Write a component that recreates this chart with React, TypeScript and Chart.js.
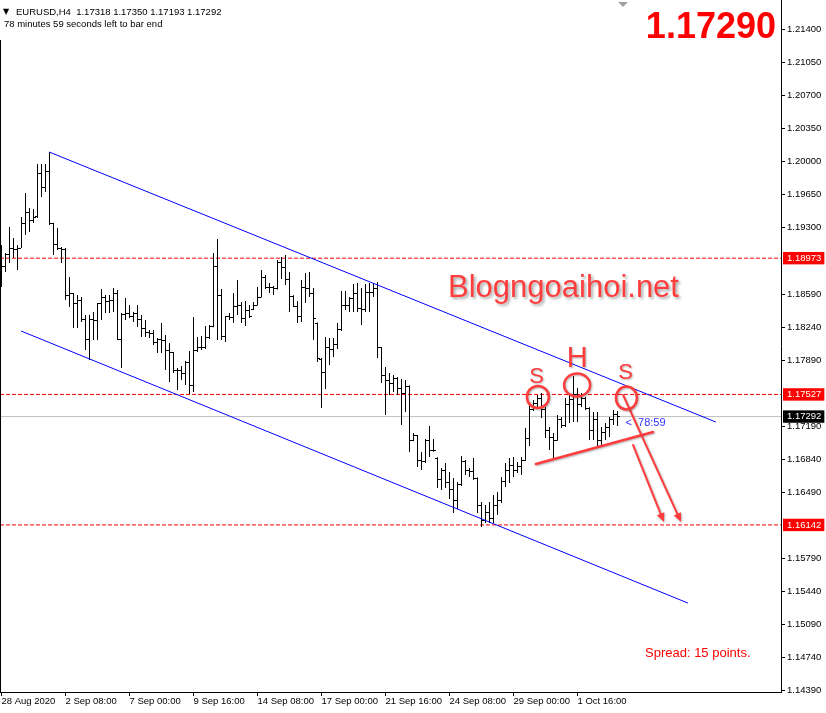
import React, { useEffect, useRef } from 'react';
import { Chart, registerables } from 'chart.js';

Chart.register(...registerables);

// ---------- DATA (EURUSD H4) ----------
const opens = [
  1.18826, 1.18890, 1.19007, 1.19081, 1.19060, 1.19081, 1.19346, 1.19453, 1.19368, 1.19412,
  1.19877, 1.19728, 1.19888, 1.19346, 1.19123, 1.19081, 1.19060, 1.18582, 1.18593, 1.18497,
  1.18529, 1.18317, 1.18105, 1.18327, 1.18310, 1.18490, 1.18561, 1.18518, 1.18525, 1.18593,
  1.18115, 1.18370, 1.18381, 1.18359, 1.18381, 1.18317, 1.18232, 1.18179, 1.18170, 1.18073,
  1.18105, 1.18100, 1.17998, 1.17967, 1.17786, 1.17780, 1.17754, 1.17871, 1.17627, 1.17988,
  1.18030, 1.18020, 1.18126, 1.18250, 1.18890, 1.18582, 1.18137, 1.18349, 1.18340, 1.18455,
  1.18476, 1.18338, 1.18423, 1.18430, 1.18476, 1.18561, 1.18773, 1.18667, 1.18660, 1.18646,
  1.18932, 1.18869, 1.18752, 1.18571, 1.18465, 1.18349, 1.18667, 1.18656, 1.18593, 1.18280,
  1.17900, 1.17765, 1.18030, 1.18009, 1.18052, 1.18211, 1.18476, 1.18470, 1.18540, 1.18603,
  1.18434, 1.18430, 1.18614, 1.18610, 1.18656, 1.18020, 1.17733, 1.17680, 1.17648, 1.17701,
  1.17595, 1.17542, 1.17616, 1.17043, 1.17086, 1.16831, 1.16810, 1.17033, 1.16937, 1.16850,
  1.16619, 1.16725, 1.16597, 1.16513, 1.16406, 1.16576, 1.16810, 1.16725, 1.16704, 1.16640,
  1.16353, 1.16194, 1.16279, 1.16215, 1.16353, 1.16406, 1.16598, 1.16725, 1.16778, 1.16725,
  1.16767, 1.16831, 1.17064, 1.17362, 1.17436, 1.17489, 1.17362, 1.17149, 1.17075, 1.17043,
  1.17256, 1.17202, 1.17415, 1.17468, 1.17521, 1.17415, 1.17489, 1.17383, 1.17149, 1.17256,
  1.17043, 1.17128, 1.17171, 1.17256, 1.17318,
];
const highs = [
  1.19113, 1.19028, 1.19304, 1.19187, 1.19113, 1.19410, 1.19665, 1.19506, 1.19495, 1.19972,
  1.19972, 1.19972, 1.20100, 1.19350, 1.19293, 1.19092, 1.19081, 1.18773, 1.18603, 1.18582,
  1.18561, 1.18370, 1.18370, 1.18402, 1.18497, 1.18646, 1.18582, 1.18582, 1.18656, 1.18635,
  1.18391, 1.18550, 1.18476, 1.18402, 1.18476, 1.18370, 1.18317, 1.18211, 1.18211, 1.18126,
  1.18285, 1.18158, 1.18073, 1.17977, 1.17807, 1.17828, 1.17882, 1.17988, 1.18349, 1.18137,
  1.18147, 1.18253, 1.18264, 1.19028, 1.19177, 1.18646, 1.18359, 1.18391, 1.18603, 1.18741,
  1.18508, 1.18518, 1.18476, 1.18508, 1.18667, 1.18848, 1.18794, 1.18710, 1.18678, 1.18954,
  1.18985, 1.19007, 1.18826, 1.18580, 1.18518, 1.18741, 1.18816, 1.18826, 1.18656, 1.18290,
  1.17913, 1.18137, 1.18126, 1.18126, 1.18285, 1.18625, 1.18625, 1.18561, 1.18699, 1.18710,
  1.18656, 1.18699, 1.18710, 1.18710, 1.18720, 1.18030, 1.17818, 1.17754, 1.17733, 1.17712,
  1.17690, 1.17680, 1.17625, 1.17117, 1.17096, 1.16916, 1.17054, 1.17192, 1.17054, 1.16860,
  1.16746, 1.16799, 1.16704, 1.16640, 1.16598, 1.16873, 1.16831, 1.16746, 1.16852, 1.16645,
  1.16385, 1.16353, 1.16385, 1.16459, 1.16491, 1.16651, 1.16799, 1.16852, 1.16863, 1.16810,
  1.16863, 1.17171, 1.17436, 1.17468, 1.17521, 1.17542, 1.17394, 1.17181, 1.17117, 1.17309,
  1.17288, 1.17489, 1.17542, 1.17723, 1.17595, 1.17542, 1.17500, 1.17390, 1.17340, 1.17340,
  1.17181, 1.17224, 1.17288, 1.17362, 1.17350,
];
const lows = [
  1.18667, 1.18826, 1.18922, 1.18975, 1.18848, 1.19081, 1.19219, 1.19251, 1.19346, 1.19399,
  1.19622, 1.19675, 1.19325, 1.19007, 1.19060, 1.18922, 1.18529, 1.18455, 1.18232, 1.18232,
  1.18296, 1.17998, 1.17892, 1.18105, 1.18105, 1.18317, 1.18391, 1.18391, 1.18402, 1.18105,
  1.17807, 1.18317, 1.18338, 1.18296, 1.18243, 1.18137, 1.18137, 1.18126, 1.18052, 1.17967,
  1.17967, 1.17786, 1.17659, 1.17754, 1.17574, 1.17680, 1.17627, 1.17531, 1.17553, 1.17977,
  1.17998, 1.18010, 1.18115, 1.18240, 1.18105, 1.18105, 1.18084, 1.18317, 1.18285, 1.18370,
  1.18285, 1.18253, 1.18338, 1.18423, 1.18470, 1.18555, 1.18646, 1.18603, 1.18582, 1.18640,
  1.18752, 1.18688, 1.18402, 1.18455, 1.18285, 1.18296, 1.18497, 1.18561, 1.18105, 1.17871,
  1.17383, 1.17584, 1.17839, 1.17924, 1.18009, 1.18200, 1.18423, 1.18402, 1.18402, 1.18402,
  1.18264, 1.18402, 1.18402, 1.18561, 1.17913, 1.17648, 1.17309, 1.17521, 1.17553, 1.17521,
  1.17202, 1.17340, 1.16916, 1.17030, 1.16757, 1.16725, 1.16799, 1.16863, 1.16920, 1.16534,
  1.16513, 1.16534, 1.16417, 1.16268, 1.16311, 1.16555, 1.16672, 1.16651, 1.16619, 1.16268,
  1.16120, 1.16162, 1.16162, 1.16162, 1.16247, 1.16375, 1.16544, 1.16587, 1.16651, 1.16693,
  1.16672, 1.16820, 1.16979, 1.17350, 1.17383, 1.17277, 1.17064, 1.16937, 1.16852, 1.17035,
  1.17171, 1.17181, 1.17224, 1.17234, 1.17234, 1.17394, 1.17362, 1.17043, 1.17043, 1.16979,
  1.16979, 1.17043, 1.17075, 1.17202, 1.17193,
];
const closes = [
  1.18890, 1.19007, 1.19081, 1.19060, 1.19081, 1.19346, 1.19453, 1.19368, 1.19410, 1.19877,
  1.19728, 1.19888, 1.19346, 1.19123, 1.19081, 1.19060, 1.18582, 1.18593, 1.18497, 1.18529,
  1.18317, 1.18105, 1.18327, 1.18310, 1.18490, 1.18561, 1.18518, 1.18525, 1.18593, 1.18115,
  1.18370, 1.18381, 1.18359, 1.18381, 1.18317, 1.18232, 1.18179, 1.18170, 1.18073, 1.18105,
  1.18100, 1.17998, 1.17967, 1.17786, 1.17780, 1.17754, 1.17871, 1.17627, 1.17988, 1.18030,
  1.18020, 1.18126, 1.18250, 1.18890, 1.18582, 1.18137, 1.18349, 1.18340, 1.18455, 1.18476,
  1.18338, 1.18423, 1.18349, 1.18476, 1.18561, 1.18773, 1.18667, 1.18660, 1.18646, 1.18932,
  1.18869, 1.18752, 1.18571, 1.18465, 1.18349, 1.18667, 1.18656, 1.18593, 1.18338, 1.17905,
  1.17765, 1.18030, 1.18009, 1.18052, 1.18211, 1.18476, 1.18470, 1.18540, 1.18603, 1.18434,
  1.18430, 1.18614, 1.18610, 1.18656, 1.18020, 1.17733, 1.17680, 1.17648, 1.17701, 1.17595,
  1.17542, 1.17616, 1.17043, 1.17086, 1.16831, 1.16810, 1.17033, 1.16937, 1.16930, 1.16619,
  1.16725, 1.16597, 1.16513, 1.16406, 1.16576, 1.16810, 1.16725, 1.16704, 1.16640, 1.16353,
  1.16194, 1.16279, 1.16215, 1.16353, 1.16406, 1.16598, 1.16725, 1.16778, 1.16725, 1.16767,
  1.16831, 1.17064, 1.17362, 1.17436, 1.17489, 1.17362, 1.17149, 1.17075, 1.17043, 1.17256,
  1.17202, 1.17415, 1.17468, 1.17521, 1.17415, 1.17489, 1.17383, 1.17149, 1.17256, 1.17043,
  1.17128, 1.17171, 1.17256, 1.17318, 1.17292,
];

const xTickBars = [0, 16, 32, 48, 64, 80, 96, 112, 128, 144];
const xTickLabels = [
  '28 Aug 2020', '2 Sep 08:00', '7 Sep 00:00', '9 Sep 16:00', '14 Sep 08:00',
  '17 Sep 00:00', '21 Sep 16:00', '24 Sep 08:00', '29 Sep 00:00', '1 Oct 16:00',
];
const yTickValues = [
  1.21400, 1.21050, 1.20700, 1.20350, 1.20000, 1.19650, 1.19300, 1.18590, 1.18240,
  1.17890, 1.17190, 1.16840, 1.16490, 1.15790, 1.15440, 1.15090, 1.14740, 1.14390,
];
const levelLines = [1.18973, 1.17527, 1.16142];
const bidPrice = 1.17292;
const highlightTicks = [1.18973, 1.17527, 1.16142, 1.17292];

// trend lines: [barIndex, price]
const upperChannel = [[11.9, 1.20100], [178.6, 1.17234]];
const lowerChannel = [[4.9, 1.18200], [171.6, 1.15313]];
const neckline = [[133.6, 1.16789], [162.9, 1.17128]];
const arrowLines = [
  [[155.4, 1.17521], [169.9, 1.16173]],
  [[157.9, 1.16990], [165.6, 1.16173]],
];
const patternLabels = ['S', 'H', 'S'];
const patternLabelPos = [[133.75, 1.17712], [143.9, 1.17908], [156.0, 1.17760]];
const patternCirclePos = [[134.1, 1.17500], [143.9, 1.17627], [156.25, 1.17489]];
const countdownPos = [156.0, 1.17224];

const X_MIN = -0.375;
const X_MAX = 194.875;
const Y_MIN = 1.14369;
const Y_MAX = 1.21713;

const FONT = '"Liberation Sans", Arial, sans-serif';
const RED = '#ff3d3d';

function hLine(v: number) {
  return [{ x: X_MIN, y: v }, { x: X_MAX, y: v }];
}
const isHL = (v: number) => highlightTicks.some((h) => Math.abs(h - v) < 1e-7);

const annotationPlugin = {
  id: 'mt4Annotations',
  beforeDatasetsDraw(chart: any) {
    chart.ctx.imageSmoothingEnabled = false;
  },
  afterDatasetsDraw(chart: any) {
    const { ctx, chartArea } = chart;
    ctx.imageSmoothingEnabled = true;
    const xs = chart.scales.x;
    const ys = chart.scales.y;
    const px = (i: number) => xs.getPixelForValue(i);
    const py = (v: number) => ys.getPixelForValue(v);
    ctx.save();
    ctx.beginPath();
    ctx.rect(chartArea.left, chartArea.top, chartArea.right - chartArea.left, chartArea.bottom - chartArea.top);
    ctx.clip();

    // watermark
    ctx.save();
    ctx.font = `31px ${FONT}`;
    ctx.fillStyle = RED;
    ctx.shadowColor = 'rgba(0,0,0,0.35)';
    ctx.shadowBlur = 3;
    ctx.shadowOffsetX = 2;
    ctx.shadowOffsetY = 2;
    ctx.textBaseline = 'alphabetic';
    ctx.fillText('Blogngoaihoi.net', 448, 297);
    ctx.restore();

    ctx.save();
    ctx.strokeStyle = RED;
    ctx.fillStyle = RED;
    ctx.shadowColor = 'rgba(0,0,0,0.3)';
    ctx.shadowBlur = 2;
    ctx.shadowOffsetX = 1;
    ctx.shadowOffsetY = 1;
    ctx.lineCap = 'round';

    // neckline
    ctx.lineWidth = 2.5;
    ctx.beginPath();
    ctx.moveTo(px(neckline[0][0]), py(neckline[0][1]));
    ctx.lineTo(px(neckline[1][0]), py(neckline[1][1]));
    ctx.stroke();

    // arrows
    ctx.lineWidth = 2;
    arrowLines.forEach(([a, b]) => {
      const x1 = px(a[0]), y1 = py(a[1]), x2 = px(b[0]), y2 = py(b[1]);
      const ang = Math.atan2(y2 - y1, x2 - x1);
      const L = 9, W = 4;
      const bx = x2 - L * Math.cos(ang), by = y2 - L * Math.sin(ang);
      ctx.beginPath();
      ctx.moveTo(x1, y1);
      ctx.lineTo(bx, by);
      ctx.stroke();
      ctx.beginPath();
      ctx.moveTo(x2, y2);
      ctx.lineTo(bx + W * Math.sin(ang), by - W * Math.cos(ang));
      ctx.lineTo(bx - W * Math.sin(ang), by + W * Math.cos(ang));
      ctx.closePath();
      ctx.fill();
    });

    // circles
    const radii = [[11, 11], [13, 11.5], [10.5, 11.5]];
    ctx.lineWidth = 2.5;
    patternCirclePos.forEach(([i, v], k) => {
      ctx.beginPath();
      ctx.ellipse(px(i), py(v), radii[k][0], radii[k][1], 0, 0, Math.PI * 2);
      ctx.stroke();
    });

    // letters
    const sizes = [22, 29, 22];
    ctx.textAlign = 'center';
    ctx.textBaseline = 'middle';
    patternLabels.forEach((t, k) => {
      ctx.font = `${sizes[k]}px ${FONT}`;
      ctx.fillText(t, px(patternLabelPos[k][0]), py(patternLabelPos[k][1]));
    });
    ctx.restore();

    // countdown
    ctx.font = `11px ${FONT}`;
    ctx.fillStyle = '#3232ff';
    ctx.textAlign = 'left';
    ctx.textBaseline = 'middle';
    ctx.fillText('<  78:59', px(countdownPos[0]), py(countdownPos[1]));

    ctx.restore();
  },
  afterDraw(chart: any) {
    const { ctx, chartArea } = chart;
    ctx.save();
    // frame: left edge (header label covers its top part)
    ctx.fillStyle = '#000';
    ctx.fillRect(chartArea.left, 40, 1, chartArea.bottom - 40);

    // shift marker
    ctx.fillStyle = '#a0a0a0';
    ctx.beginPath();
    ctx.moveTo(618, 2);
    ctx.lineTo(628, 2);
    ctx.lineTo(623, 7);
    ctx.closePath();
    ctx.fill();

    // header
    ctx.fillStyle = '#000';
    ctx.textAlign = 'left';
    ctx.textBaseline = 'alphabetic';
    ctx.font = `8px "DejaVu Sans", ${FONT}`;
    ctx.fillText('▼', 3, 14);
    ctx.font = `9.5px ${FONT}`;
    ctx.fillText('EURUSD,H4  1.17318 1.17350 1.17193 1.17292', 16, 15);
    ctx.fillText('78 minutes 59 seconds left to bar end', 4, 27);

    // big price
    ctx.font = `bold 36px ${FONT}`;
    ctx.fillStyle = '#ff0000';
    ctx.textAlign = 'right';
    ctx.fillText('1.17290', 776, 37.5);

    // spread
    ctx.font = `13px ${FONT}`;
    ctx.textAlign = 'left';
    ctx.fillText('Spread: 15 points.', 645, 657);
    ctx.restore();
  },
};

export default function App() {
  const ref = useRef<HTMLCanvasElement>(null);

  useEffect(() => {
    const canvas = ref.current;
    if (!canvas) return;
    const mkTick = (left: boolean) => {
      const c = document.createElement('canvas');
      c.width = 5;
      c.height = 1;
      const g = c.getContext('2d')!;
      g.fillStyle = '#000';
      g.fillRect(left ? 0 : 3, 0, 2, 1);
      return c;
    };
    const openImg = mkTick(true);
    const closeImg = mkTick(false);

    const datasets: any[] = [];
    levelLines.forEach((v) => {
      datasets.push({
        type: 'line',
        data: hLine(v),
        borderColor: '#ff0000',
        borderWidth: 1,
        borderDash: [4, 2],
        pointRadius: 0,
        order: 20,
      });
    });
    datasets.push({
      type: 'line',
      data: hLine(bidPrice),
      borderColor: '#c0c0c0',
      borderWidth: 1,
      pointRadius: 0,
      order: 21,
    });
    datasets.push({
      type: 'bar',
      data: highs.map((h, i) => ({ x: i, y: [lows[i], h] })),
      backgroundColor: '#000000',
      borderWidth: 0,
      barThickness: 1,
      inflateAmount: 0,
      order: 10,
    });
    datasets.push({
      type: 'line',
      showLine: false,
      data: opens.map((v, i) => ({ x: i, y: v })),
      pointStyle: openImg,
      pointRadius: 3,
      order: 9,
    });
    datasets.push({
      type: 'line',
      showLine: false,
      data: closes.map((v, i) => ({ x: i, y: v })),
      pointStyle: closeImg,
      pointRadius: 3,
      order: 8,
    });
    [upperChannel, lowerChannel].forEach((ln) => {
      datasets.push({
        type: 'line',
        data: ln.map(([x, y]) => ({ x, y })),
        borderColor: '#0000ff',
        borderWidth: 1,
        pointRadius: 0,
        tension: 0,
        order: 5,
      });
    });

    const tickFont = { family: FONT, size: 9.5, lineHeight: 1.2 };

    const chart = new Chart(canvas, {
      type: 'bar',
      data: { datasets },
      options: {
        responsive: false,
        animation: false,
        devicePixelRatio: 1,
        events: [],
        layout: { padding: 0, autoPadding: false },
        plugins: { legend: { display: false }, tooltip: { enabled: false } },
        scales: {
          x: {
            type: 'linear',
            min: X_MIN,
            max: X_MAX,
            offset: false,
            position: 'bottom',
            border: { display: true, color: '#000', width: 1 },
            grid: { drawOnChartArea: false, drawTicks: true, tickLength: 4, color: '#000', offset: false },
            ticks: {
              autoSkip: false,
              maxRotation: 0,
              minRotation: 0,
              align: 'start',
              padding: 0,
              color: '#000',
              font: tickFont,
              callback: (_v: any, idx: number) => xTickLabels[idx],
            },
            afterBuildTicks: (s: any) => {
              s.ticks = xTickBars.map((v) => ({ value: v }));
            },
            afterFit: (s: any) => {
              s.height = 21;
              s.paddingLeft = 0;
              s.paddingRight = 0;
              s.paddingTop = 0;
              s.paddingBottom = 0;
            },
          },
          y: {
            type: 'linear',
            position: 'right',
            min: Y_MIN,
            max: Y_MAX,
            border: { display: true, color: '#000', width: 1 },
            grid: {
              drawOnChartArea: false,
              drawTicks: true,
              tickLength: 4,
              color: (c: any) => (c.tick && isHL(c.tick.value) ? 'rgba(0,0,0,0)' : '#000'),
            },
            ticks: {
              autoSkip: false,
              padding: 2,
              font: tickFont,
              color: (c: any) => (c.tick && isHL(c.tick.value) ? '#ffffff' : '#000000'),
              showLabelBackdrop: (c: any) => !!(c.tick && isHL(c.tick.value)),
              backdropColor: (c: any) =>
                c.tick && Math.abs(c.tick.value - bidPrice) < 1e-7 ? '#000000' : '#ff0000',
              backdropPadding: { top: 0.5, bottom: 0.5, left: 4, right: 3 },
              callback: (v: any) => Number(v).toFixed(5),
            },
            afterBuildTicks: (s: any) => {
              s.ticks = [...yTickValues, ...highlightTicks].map((v) => ({ value: v }));
            },
            afterFit: (s: any) => {
              s.width = 45;
              s.paddingLeft = 0;
              s.paddingRight = 0;
              s.paddingTop = 0;
              s.paddingBottom = 0;
            },
          },
        },
      } as any,
      plugins: [annotationPlugin],
    } as any);

    return () => chart.destroy();
  }, []);

  return (
    <div style={{ position: 'absolute', left: 0, top: 0, width: 826, height: 713, background: '#ffffff' }}>
      <canvas ref={ref} width={826} height={713} style={{ display: 'block', width: 826, height: 713 }} />
    </div>
  );
}
